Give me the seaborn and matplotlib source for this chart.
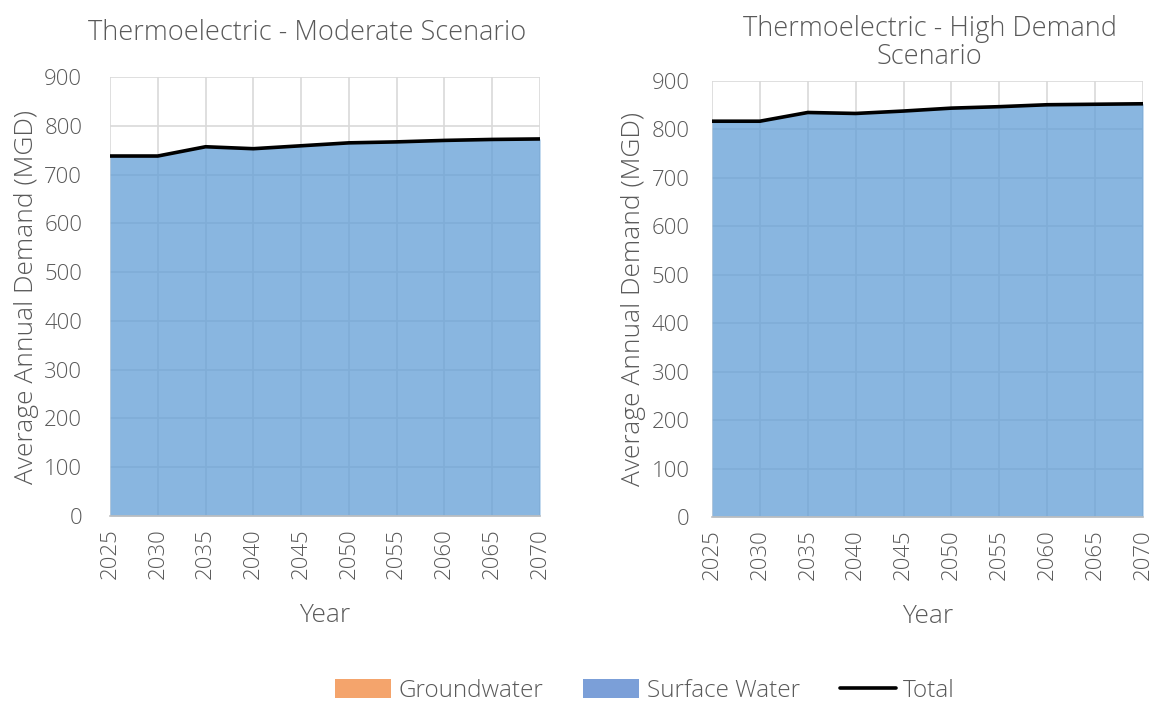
import matplotlib
matplotlib.use("Agg")
import matplotlib.pyplot as plt
from matplotlib.patches import Patch
from matplotlib.lines import Line2D
import seaborn as sns
import pandas as pd

years = [2025, 2030, 2035, 2040, 2045, 2050, 2055, 2060, 2065, 2070]
groundwater_moderate = [0, 0, 0, 0, 0, 0, 0, 0, 0, 0]
surface_moderate = [738, 738, 757, 753, 759, 765, 767, 770, 772, 773]
groundwater_high = [0, 0, 0, 0, 0, 0, 0, 0, 0, 0]
surface_high = [817, 817, 835, 833, 838, 844, 847, 851, 852, 853]

titles = ["Thermoelectric - Moderate Scenario", "Thermoelectric - High Demand\nScenario"]
y_ticks = [0, 100, 200, 300, 400, 500, 600, 700, 800, 900]

sns.set_theme(style="white")
plt.rcParams["font.family"] = ["Open Sans", "DejaVu Sans"]
plt.rcParams["font.weight"] = "light"
plt.rcParams["axes.titleweight"] = "light"
plt.rcParams["axes.labelweight"] = "light"

TEXT = "#595959"
GRID = "#d9d9d9"
GW_COLOR = "#f4a46c"
SW_FILL = "#629ed6"
SW_LEGEND = "#7b9fd8"

fig = plt.figure(figsize=(11.55, 7.05), dpi=100)
ax1 = fig.add_axes([110 / 1155, 1 - 516 / 705, 430 / 1155, 439 / 705])
ax2 = fig.add_axes([712 / 1155, 1 - 517 / 705, 431 / 1155, 436 / 705])

panels = [
    (ax1, groundwater_moderate, surface_moderate, titles[0], 20, 27, 0.458),
    (ax2, groundwater_high, surface_high, titles[1], 16, 12, 0.505),
]

for ax, gw, sw, title, ypad, tpad, tx in panels:
    df = pd.DataFrame({"Year": years, "Groundwater": gw, "Surface Water": sw})
    df["Total"] = df["Groundwater"] + df["Surface Water"]
    ax.stackplot(df["Year"], df["Groundwater"], df["Surface Water"],
                 colors=[GW_COLOR, SW_FILL], alpha=0.75, linewidth=0, zorder=2)
    sns.lineplot(data=df, x="Year", y="Total", ax=ax, color="black",
                 linewidth=2.6, zorder=3, legend=False)
    ax.set_xlim(years[0], years[-1])
    ax.set_ylim(0, 900)
    ax.set_xticks(years)
    ax.set_xticklabels([str(y) for y in years], rotation=90)
    ax.set_yticks(y_ticks)
    ax.grid(True, color=GRID, linewidth=1.2, zorder=0)
    ax.set_axisbelow(True)
    for s in ax.spines.values():
        s.set_visible(False)
    ax.spines["bottom"].set_visible(True)
    ax.spines["bottom"].set_color("#bfbfbf")
    ax.spines["bottom"].set_linewidth(1.2)
    ax.tick_params(axis="x", colors=TEXT, labelsize=16, length=0, pad=9)
    ax.tick_params(axis="y", colors=TEXT, labelsize=16, length=0, pad=ypad)
    ax.set_xlabel("Year", color=TEXT, fontsize=19, labelpad=17)
    ax.set_ylabel("Average Annual Demand (MGD)", color=TEXT, fontsize=19, labelpad=4)
    ax.set_title(title, color=TEXT, fontsize=19.5, pad=tpad, linespacing=1.0, x=tx)

handles = [
    Patch(facecolor=GW_COLOR, edgecolor="none"),
    Patch(facecolor=SW_LEGEND, edgecolor="none"),
    Line2D([0], [0], color="black", linewidth=2.6),
]
fig.legend(handles, ["Groundwater", "Surface Water", "Total"], loc="center",
           bbox_to_anchor=(645 / 1155, 1 - 691 / 705), ncol=3, frameon=False,
           fontsize=17.5, labelcolor=TEXT, handlelength=2.3, handleheight=0.8,
           columnspacing=1.65, handletextpad=0.3)

fig.savefig("out.png", dpi=100, facecolor="white")
